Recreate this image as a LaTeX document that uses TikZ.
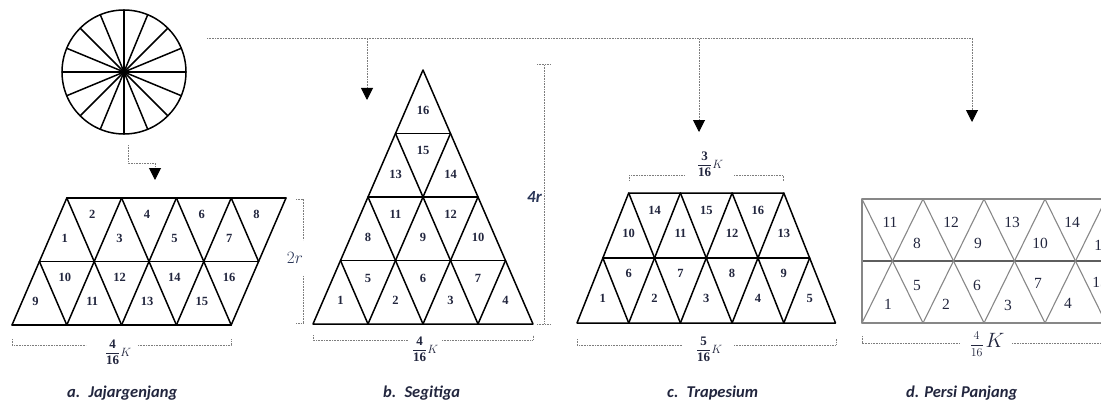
\documentclass[tikz,border=0pt]{standalone}
\usepackage{fontspec}
\setmainfont{Liberation Serif}
\newfontfamily\numfont{Liberation Serif}
\newfontfamily\capfont{Carlito}
\usetikzlibrary{arrows.meta}
\definecolor{numc}{RGB}{34,38,62}
\definecolor{dimc}{RGB}{125,125,125}
\definecolor{gridgray}{RGB}{135,135,135}
\definecolor{labc}{RGB}{40,52,86}
\tikzset{
  shp/.style={line width=1.5pt, black, line join=round, line cap=round},
  rshp/.style={line width=1.1pt, gridgray, line cap=round},
  num/.style={font=\numfont\bfseries\fontsize{12.5}{12.5}\selectfont, text=numc, inner sep=0pt},
  rnum/.style={font=\numfont\fontsize{15.5}{15.5}\selectfont, text=numc, inner sep=0pt},
  dimline/.style={dimc, line width=1pt, dash pattern=on 1pt off 0.6pt},
  arr/.style={dimline, -{Triangle[width=12pt,length=12pt,black]}},
  frc/.style={text=numc, inner sep=0pt, font=\fontsize{13}{15}\selectfont},
  captext/.style={font=\capfont\bfseries\itshape\fontsize{16.5}{17}\selectfont, text=numc, inner sep=0pt, anchor=west}
}
\begin{document}
\begin{tikzpicture}[x=1pt,y=-1pt]
\useasboundingbox (0,0) rectangle (1101,404);

% ---------- circle ----------
\coordinate (cc) at (124,72);
\draw[shp] (cc) circle[radius=62];
\foreach \a in {0,22.5,...,170} \draw[shp] (cc) +(\a:62) -- +(\a+180:62);

% ---------- arrows ----------
\coordinate (s0) at (128,145);
\coordinate (s1) at (128,163);
\coordinate (s2) at (155,163);
\coordinate (s3) at (155,180);
\draw[arr] (s0) -- (s1) -- (s2) -- (s3);
\coordinate (tl) at (207,39);
\coordinate (tr) at (972,39);
\coordinate (j1) at (367,39);
\coordinate (j2) at (699,39);
\coordinate (a1) at (367,100);
\coordinate (a2) at (699,132);
\coordinate (a3) at (972,122);
\draw[dimline] (tl) -- (tr);
\draw[arr] (j1) -- (a1);
\draw[arr] (j2) -- (a2);
\draw[arr] (tr) -- (a3);

% ---------- a. parallelogram ----------
\draw[shp] (12,325) -- (231.2,325);
\draw[shp] (39.4,261.5) -- (258.6,261.5);
\draw[shp] (66.8,198) -- (286,198);
\foreach \j in {0,...,4} \draw[shp] (12+54.8*\j,325) -- (66.8+54.8*\j,198);
\foreach \j in {0,...,2} \draw[shp] (66.8+54.8*\j,198) -- (121.6+54.8*\j,325);
\draw[shp] (231.2,198) -- (258.6,261.5);
\draw[shp] (39.4,261.5) -- (66.8,325);
\foreach \n/\x/\y in {1/64.8/238,3/119.6/238,5/174.4/238,7/229.2/238,
  2/92.2/214,4/147/214,6/201.8/214,8/256.6/214,
  9/35.4/301,11/92.2/301,13/147/301,15/201.8/301,
  10/64.8/277,12/119.6/277,14/174.4/277,16/229.2/277}
  \node[num] (pa\n) at (\x,\y) {\n};
% dims
\draw[dimline] (12,339) -- (12,345) -- (86,345);
\draw[dimline] (138,345) -- (231,345) -- (231,339);
\node[frc] (fa) at (118,352) {$\displaystyle\frac{\mathbf{4}}{\mathbf{16}}K$};
\draw[dimline] (296,199) -- (303,199) -- (303,240);
\draw[dimline] (303,276) -- (303,323) -- (296,323);
\node[text=labc, inner sep=0pt, font=\fontsize{16}{16}\selectfont] (l2r) at (295,258) {$2r$};

% ---------- b. triangle ----------
\draw[shp] (313,324) -- (533,324) -- (423,70) -- cycle;
\foreach \k in {1,2,3} \draw[shp] (313+27.5*\k,324-63.5*\k) -- (533-27.5*\k,324-63.5*\k);
\foreach \j in {1,2,3} {
  \draw[shp] (313+55*\j,324) -- (313+55*\j+27.5*4-27.5*\j,324-63.5*4+63.5*\j);
  \draw[shp] (313+55*\j,324) -- (313+27.5*\j,324-63.5*\j);
}
\foreach \n/\x/\y in {1/340.5/300,2/395.5/300,3/450.5/300,4/505.5/300,
  5/368/278,6/423/278,7/478/278,
  8/368/237,9/423/237,10/478/237,
  11/395.5/214,12/450.5/214,
  13/395.5/174,14/450.5/174,15/423/150,16/423/110}
  \node[num] (pb\n) at (\x,\y) {\n};
\draw[dimline] (313,335) -- (313,340) -- (408,340);
\draw[dimline] (442,340) -- (533,340) -- (533,335);
\node[frc] (fb) at (425,349) {$\displaystyle\frac{\mathbf{4}}{\mathbf{16}}K$};
\draw[dimline] (537,65) -- (551,65);
\draw[dimline] (544,65) -- (544,324);
\draw[dimline] (537,324) -- (551,324);
\node[text=labc, inner sep=0pt, anchor=east, font=\capfont\bfseries\itshape\fontsize{17}{17}\selectfont] (l4r) at (542,197) {4r};

% ---------- c. trapezoid ----------
\draw[shp] (577,323) -- (835.5,323) -- (783.8,193) -- (628.7,193) -- cycle;
\draw[shp] (602.85,258) -- (809.65,258);
\foreach \j in {1,2,3} \draw[shp] (577+51.7*\j,323) -- (628.7+51.7*\j,193);
\draw[shp] (783.8,323) -- (809.65,258);
\draw[shp] (628.7,323) -- (602.85,258);
\foreach \j in {2,3,4} \draw[shp] (577+51.7*\j,323) -- (628.7+51.7*\j-103.4,193);
\foreach \n/\x/\y in {1/602.85/298,2/654.55/298,3/706.25/298,4/757.95/298,5/809.65/298,
  6/628.7/273,7/680.4/273,8/732.1/273,9/783.8/273,
  10/628.7/233,11/680.4/233,12/732.1/233,13/783.8/233,
  14/654.55/210,15/706.25/210,16/757.95/210}
  \node[num] (pc\n) at (\x,\y) {\n};
\draw[dimline] (577,339) -- (577,345) -- (682,345);
\draw[dimline] (734,345) -- (836,345) -- (836,339);
\node[frc] (fc1) at (709,349) {$\displaystyle\frac{\mathbf{5}}{\mathbf{16}}K$};
\draw[dimline] (629,181) -- (629,175) -- (685,175);
\draw[dimline] (734,175) -- (783,175) -- (783,181);
\node[frc] (fc2) at (710,164) {$\displaystyle\frac{\mathbf{3}}{\mathbf{16}}K$};

% ---------- d. rectangle ----------
\begin{scope}
\clip (850,185) rectangle (1101,360);
\draw[rshp] (862,199) -- (1110,199);
\draw[rshp, draw=gridgray!70!black] (862,261) -- (1110,261);
\draw[rshp] (862,323) -- (1110,323);
\draw[rshp] (862,199) -- (862,323);
\foreach \j in {0,...,4} {
  \draw[rshp] (862+61*\j,199) -- (923+61*\j,323);
  \draw[rshp] (862+61*\j,323) -- (923+61*\j,199);
}
\foreach \n/\x/\y in {11/890/222,12/951/222,13/1012/222,14/1072/222,
  8/917/243,9/978/243,10/1040/243,16/1102/245,
  1/888/304,2/946/304,3/1008/305,4/1068/303,
  5/917/285,6/977/285,7/1038/283,15/1100/282}
  \node[rnum] (pd\n) at (\x,\y) {\n};
\draw[dimline] (862,336) -- (862,343) -- (960,343);
\draw[dimline] (1012,343) -- (1110,343);
\end{scope}
\node[frc, font=\fontsize{11.5}{12}\selectfont] (fd) at (987,344) {$\displaystyle\frac{4}{16}$\,{\fontsize{22}{22}\selectfont$K$}};

% ---------- captions ----------
\node[captext] (ca) at (67,393) {a.\enspace Jajargenjang};
\node[captext] (cb) at (383,393) {b.\enspace Segitiga};
\node[captext] (cc2) at (667,393) {c.\enspace Trapesium};
\node[captext] (cd) at (906,393) {d. Persi Panjang};
\end{tikzpicture}
\end{document}
